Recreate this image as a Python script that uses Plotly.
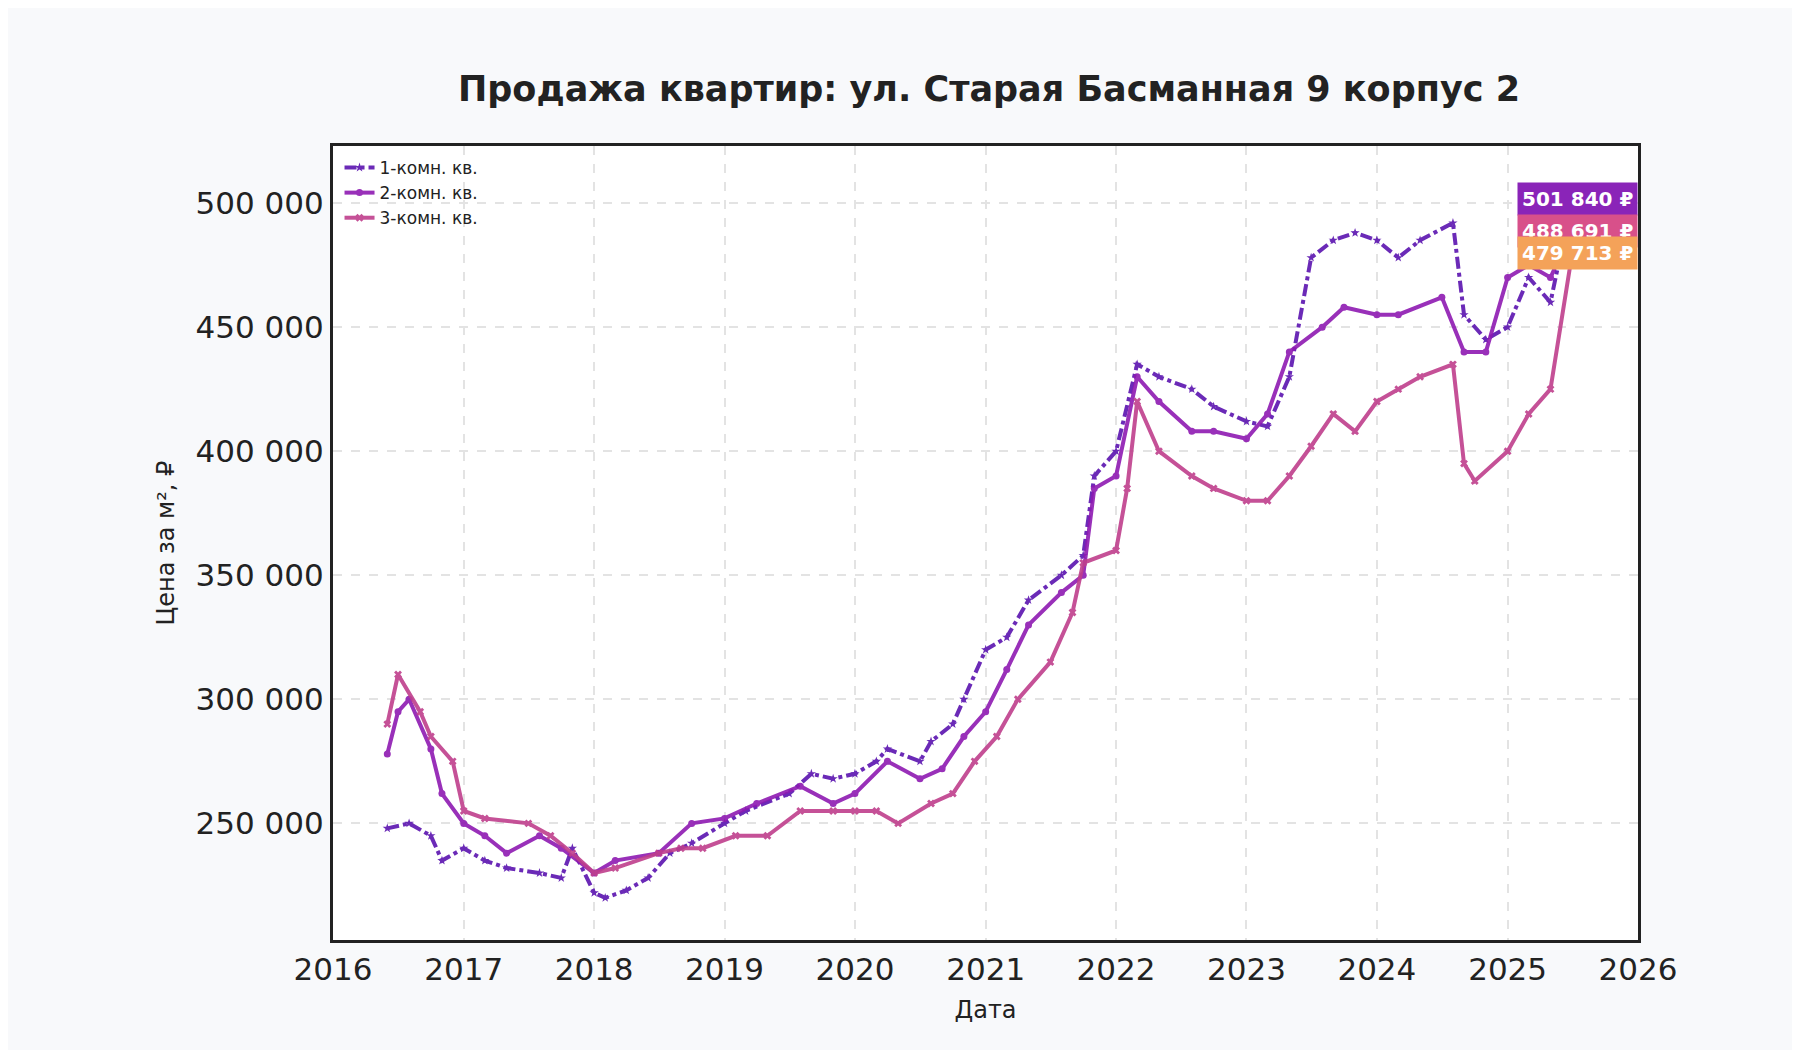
import plotly.graph_objects as go

dates1 = ["2016-06","2016-08","2016-10","2016-11","2017-01","2017-03","2017-05","2017-08","2017-10","2017-11","2018-01","2018-02","2018-04","2018-06","2018-08","2018-10","2019-01","2019-03","2019-07","2019-09","2019-11","2020-01","2020-03","2020-04","2020-07","2020-08","2020-10","2020-11","2021-01","2021-03","2021-05","2021-08","2021-10","2021-11","2022-01","2022-03","2022-05","2022-08","2022-10","2023-01","2023-03","2023-05","2023-07","2023-09","2023-11","2024-01","2024-03","2024-05","2024-08","2024-09","2024-11","2025-01","2025-03","2025-05","2025-07"]
one_room = [248,250,245,235,240,235,232,230,228,240,222,220,223,228,238,242,250,255,262,270,268,270,275,280,275,283,290,300,320,325,340,350,358,390,400,435,430,425,418,412,410,430,478,485,488,485,478,485,492,455,445,450,470,460,502]

dates2 = ["2016-06","2016-07","2016-08","2016-10","2016-11","2017-01","2017-03","2017-05","2017-08","2017-10","2018-01","2018-03","2018-07","2018-10","2019-01","2019-04","2019-08","2019-11","2020-01","2020-04","2020-07","2020-09","2020-11","2021-01","2021-03","2021-05","2021-08","2021-10","2021-11","2022-01","2022-03","2022-05","2022-08","2022-10","2023-01","2023-03","2023-05","2023-08","2023-10","2024-01","2024-03","2024-07","2024-09","2024-11","2025-01","2025-03","2025-05","2025-07"]
two_room = [278,295,300,280,262,250,245,238,245,240,230,235,238,250,252,258,265,258,262,275,268,272,285,295,312,330,343,350,385,390,430,420,408,408,405,415,440,450,458,455,455,462,440,440,470,475,470,489]

dates3 = ["2016-06","2016-07","2016-09","2016-10","2016-12","2017-01","2017-03","2017-07","2017-09","2017-11","2018-01","2018-03","2018-07","2018-09","2018-11","2019-02","2019-05","2019-08","2019-11","2020-01","2020-03","2020-05","2020-08","2020-10","2020-12","2021-02","2021-04","2021-07","2021-09","2021-10","2022-01","2022-02","2022-03","2022-05","2022-08","2022-10","2023-01","2023-03","2023-05","2023-07","2023-09","2023-11","2024-01","2024-03","2024-05","2024-08","2024-09","2024-10","2025-01","2025-03","2025-05","2025-07"]
three_room = [290,310,295,285,275,255,252,250,245,238,230,232,238,240,240,245,245,255,255,255,255,250,258,262,275,285,300,315,335,355,360,385,420,400,390,385,380,380,390,402,415,408,420,425,430,435,395,388,400,415,425,480]

names = ["1-комн. кв.","2-комн. кв.","3-комн. кв."]
colors = ["#5b14b0","#8e1ab2","#bf3f8c"]
last_labels = ["501 840 ₽","488 691 ₽","479 713 ₽"]
label_colors = ["#8a24b8","#d8508a","#f4a259"]
label_y = [501840,488691,479713]

fig = go.Figure()
series = [(dates1,one_room,"dashdot","star"),(dates2,two_room,"solid","circle"),(dates3,three_room,"solid","x")]
for (d,v,dash,sym),n,c in zip(series,names,colors):
    fig.add_trace(go.Scatter(x=d,y=[a*1000 for a in v],name=n,mode="lines+markers",
        line=dict(color=c,width=4,dash=dash),marker=dict(symbol=sym,size=7,color=c),opacity=0.9))

for t,yv,bc in zip(last_labels,label_y,label_colors):
    fig.add_annotation(x=1,xref="paper",y=yv,yref="y",text="<b>"+t+"</b>",xanchor="right",showarrow=False,
        font=dict(color="white",size=20,family="DejaVu Sans"),bgcolor=bc,borderpad=4)

fig.update_layout(width=1800,height=1050,paper_bgcolor="#f8f9fb",plot_bgcolor="white",
    font=dict(family="DejaVu Sans",color="#222"),
    title=dict(text="<b>Продажа квартир: ул. Старая Басманная 9 корпус 2</b>",x=0.545,y=0.935,xanchor="center",font=dict(size=35)),
    margin=dict(l=325,r=170,t=138,b=118),
    legend=dict(x=0.005,y=0.995,xanchor="left",yanchor="top",bgcolor="rgba(255,255,255,0)",font=dict(size=17)),
    showlegend=True)
fig.update_xaxes(range=["2016-01-01","2026-01-01"],dtick="M12",tickformat="%Y",title=dict(text="Дата",font=dict(size=24)),
    tickfont=dict(size=31),showgrid=True,gridcolor="#e3e3e3",griddash="dash",gridwidth=2,
    showline=True,linecolor="#222",linewidth=3,mirror=True,ticks="")
fig.update_yaxes(range=[203000,523000],tickvals=[250000,300000,350000,400000,450000,500000],
    ticktext=["250 000","300 000","350 000","400 000","450 000","500 000"],title=dict(text="Цена за м², ₽",font=dict(size=24)),
    tickfont=dict(size=31),showgrid=True,gridcolor="#e3e3e3",griddash="dash",gridwidth=2,
    showline=True,linecolor="#222",linewidth=3,mirror=True,zeroline=False)
fig.write_html("out.html")
